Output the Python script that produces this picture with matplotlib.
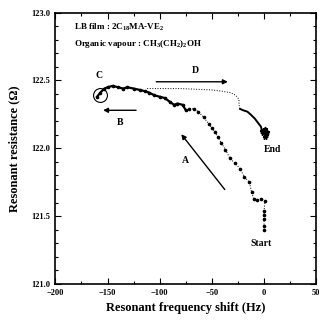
import matplotlib
matplotlib.use('agg')
import matplotlib.pyplot as plt
from matplotlib.ticker import MultipleLocator

# forward path: Start -> A -> B -> C
freq_fwd = [0, 0, 0, 0, 0, 1, -3, -7, -10, -12, -14, -19, -23, -28, -33, -37,
            -41, -44, -47, -50, -53, -58, -63, -67, -72, -75, -78, -83, -86,
            -90, -95, -100, -105, -110, -114, -119, -125, -131, -135, -140,
            -145, -150, -153, -157, -160]
res_fwd = [121.40, 121.43, 121.48, 121.51, 121.54, 121.61, 121.63, 121.62,
           121.63, 121.68, 121.75, 121.79, 121.85, 121.89, 121.93, 121.99,
           122.04, 122.08, 122.12, 122.15, 122.18, 122.23, 122.27, 122.29,
           122.29, 122.28, 122.32, 122.33, 122.32, 122.34, 122.37, 122.38,
           122.39, 122.41, 122.42, 122.43, 122.44, 122.45, 122.44, 122.45,
           122.46, 122.45, 122.44, 122.41, 122.38]

# return path: D -> End (dotted part)
freq_ret_dot = [-112, -80, -50, -40, -32, -27, -24, -24, -23]
res_ret_dot = [122.44, 122.44, 122.43, 122.42, 122.41, 122.39, 122.36, 122.32, 122.29]

# return path: descending part to End
freq_ret = [-23, -20, -16, -13, -9, -8, -6, -3, -2, 0, 1, -1, 2, 1, 3]
res_ret = [122.29, 122.28, 122.27, 122.25, 122.22, 122.21, 122.19, 122.16,
           122.13, 122.12, 122.14, 122.11, 122.10, 122.08, 122.12]

serif = 'Liberation Serif'
plt.rcParams['mathtext.fontset'] = 'custom'
plt.rcParams['mathtext.rm'] = 'Liberation Serif:bold'
plt.rcParams['mathtext.default'] = 'rm'

fig = plt.figure(figsize=(3.22, 3.31), dpi=100)
ax = fig.add_axes([0.172, 0.142, 0.81, 0.82])

ax.plot(freq_fwd, res_fwd, color='black', linestyle=':', linewidth=0.7,
        marker='o', markersize=1.6)
ax.plot(freq_fwd[25:], res_fwd[25:], color='black', linewidth=1.6)
ax.plot(freq_ret_dot, res_ret_dot, color='black', linestyle=':', linewidth=0.7)
ax.plot(freq_ret, res_ret, color='black', linestyle='-', linewidth=1.4)
ax.plot(freq_ret[8:], res_ret[8:], color='black', linewidth=2.2,
        marker='*', markersize=3.5)

# circle around C
ax.plot([-157], [122.39], marker='o', markersize=10, markerfacecolor='none',
        markeredgecolor='black', markeredgewidth=0.8)

arrow = dict(arrowstyle='-|>', color='black', linewidth=1.0, mutation_scale=7)
ax.annotate('', xy=(-81, 122.12), xytext=(-36, 121.68), arrowprops=arrow)
ax.annotate('', xy=(-32, 122.49), xytext=(-106, 122.49), arrowprops=arrow)
ax.annotate('', xy=(-157, 122.28), xytext=(-120, 122.28), arrowprops=arrow)

lab = dict(fontfamily=serif, fontweight='bold', fontsize=7, ha='center', va='center')
ax.text(-75, 121.91, 'A', **lab)
ax.text(-138, 122.19, 'B', **lab)
ax.text(-158, 122.54, 'C', **lab)
ax.text(-66, 122.57, 'D', **lab)
ax.text(-3, 121.30, 'Start', **lab)
ax.text(8, 121.99, 'End', **lab)

ax.text(-182, 122.89, 'LB film : 2C$_{18}$MA-VE$_2$', fontfamily=serif,
        fontweight='bold', fontsize=6.5, va='center')
ax.text(-182, 122.77, 'Organic vapour : CH$_3$(CH$_2$)$_2$OH', fontfamily=serif,
        fontweight='bold', fontsize=6.5, va='center')

ax.set_xlim(-200, 50)
ax.set_ylim(121.0, 123.0)
ax.xaxis.set_major_locator(MultipleLocator(50))
ax.xaxis.set_minor_locator(MultipleLocator(25))
ax.yaxis.set_major_locator(MultipleLocator(0.5))
ax.yaxis.set_minor_locator(MultipleLocator(0.1))
ax.tick_params(which='both', direction='in', top=True, right=True,
               labelsize=6, width=0.8)
ax.tick_params(which='major', length=4)
ax.tick_params(which='minor', length=2)
ax.set_yticks([121.0, 121.5, 122.0, 122.5, 123.0])
ax.set_yticklabels(['121.0', '121.5', '122.0', '122.5', '123.0'])
for t in ax.get_xticklabels() + ax.get_yticklabels():
    t.set_fontfamily(serif)
    t.set_fontweight('bold')
for s in ax.spines.values():
    s.set_linewidth(1.2)

ax.set_xlabel('Resonant frequency shift (Hz)', fontfamily=serif,
              fontweight='bold', fontsize=9)
ax.set_ylabel('Resonant resistance (\u03a9)', fontfamily=serif,
              fontweight='bold', fontsize=9, labelpad=8)

fig.savefig('out.png', dpi=100)
